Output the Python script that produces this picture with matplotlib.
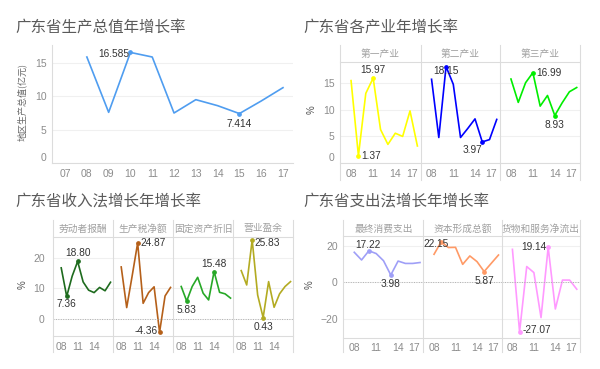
import matplotlib
matplotlib.use("Agg")
import matplotlib.pyplot as plt
from matplotlib.lines import Line2D

plt.rcParams['font.family'] = ['Liberation Sans', 'Noto Sans CJK SC', 'DejaVu Sans']
CJK = ['Noto Sans CJK SC', 'DejaVu Sans']

# ---- data ----
gdp_years = [7, 8, 9, 10, 11, 12, 13, 14, 15, 16, 17]
gdp_x = [8, 9, 10, 11, 12, 13, 14, 15, 16, 17]
gdp = [15.9, 7.6, 16.585, 15.9, 7.5, 9.5, 8.6, 7.414, 9.3, 11.3]

years = [8, 9, 10, 11, 12, 13, 14, 15, 16, 17]

ind_names = ["第一产业", "第二产业", "第三产业"]
ind1 = [15.5, 1.37, 13.1, 15.97, 6.3, 3.5, 5.6, 5.0, 9.8, 3.2]
ind2 = [15.75, 4.8, 18.15, 14.8, 4.8, 6.5, 8.3, 3.97, 4.4, 8.2]
ind3 = [15.8, 11.4, 15.1, 16.99, 10.7, 12.7, 8.93, 11.3, 13.4, 14.2]

inc_names = ["劳动者报酬", "生产税净额", "固定资产折旧", "营业盈余"]
labor = [16.7, 7.36, 14.0, 18.80, 12.1, 9.4, 8.6, 10.3, 9.2, 12.0]
tax = [17.0, 3.7, 14.1, 24.87, 5.1, 8.6, 10.5, -4.36, 7.5, 10.3]
deprec = [10.6, 5.83, 10.6, 13.6, 8.4, 6.2, 15.48, 8.7, 8.2, 6.8]
surplus = [15.8, 11.1, 25.83, 7.8, 0.43, 12.2, 3.8, 8.2, 10.6, 12.2]

exp_names = ["最终消费支出", "资本形成总额", "货物和服务净流出"]
consum = [16.4, 12.2, 17.22, 15.7, 11.8, 3.98, 11.6, 10.3, 10.3, 10.8]
capital = [15.3, 22.15, 19.0, 19.1, 9.8, 14.4, 11.3, 5.87, 10.4, 14.9]
net_exp = [18.0, -27.07, 8.6, 5.3, -19.3, 19.14, -14.6, 1.2, 1.2, -3.8]

W, H = 600, 369
EDGE = "#dcdcdc"
TICK = "#8c8c8c"

fig = plt.figure(figsize=(W / 100, H / 100), dpi=100)


def px_axes(x0, y0, x1, y1):
    ax = fig.add_axes([x0 / W, 1 - y1 / H, (x1 - x0) / W, (y1 - y0) / H])
    for s in ax.spines.values():
        s.set_visible(False)
    ax.tick_params(length=0, labelsize=7.5, colors=TICK)
    ax.yaxis.grid(True, color="#f0f0f0", lw=0.8)
    ax.set_axisbelow(True)
    return ax


def hline(y, x0, x1):
    fig.add_artist(Line2D([x0 / W, x1 / W], [1 - y / H] * 2, transform=fig.transFigure,
                          color=EDGE, lw=0.8))


def vline(x, y0, y1):
    fig.add_artist(Line2D([x / W] * 2, [1 - y0 / H, 1 - y1 / H], transform=fig.transFigure,
                          color=EDGE, lw=0.8))


def ftext(x, y, s, **kw):
    fig.text(x / W, 1 - y / H, s, **kw)


def label(ax, x, y, txt, ha, dx, dy, color):
    ax.plot([x], [y], "o", ms=2.4, color=color)
    ax.annotate(txt, (x, y), xytext=(dx * 0.72, dy * 0.72), textcoords="offset points",
                ha=ha, va="center", fontsize=7.3, color="#333333")


def mark_extremes(ax, vals, color, fmt, spec_max, spec_min):
    imax = max(range(len(vals)), key=lambda i: vals[i])
    imin = min(range(len(vals)), key=lambda i: vals[i])
    label(ax, years[imax], vals[imax], fmt.format(vals[imax]), *spec_max, color)
    label(ax, years[imin], vals[imin], fmt.format(vals[imin]), *spec_min, color)


def title(x, y, s):
    ftext(x, y, s, fontsize=11.2, color="#5a5a5a", family=CJK, va="center")


# ---------------- panel 1 ----------------
title(15, 27, "广东省生产总值年增长率")
ax = px_axes(52, 45, 293, 163)
ax.plot(gdp_x, gdp, color="#4f9df0", lw=1.2)
ax.set_xlim(6.4, 17.46)
ax.set_ylim(0, 17.7)
ax.set_yticks([0, 5, 10, 15])
ax.set_xticks(gdp_years, [f"{y:02d}" for y in gdp_years])
ax.tick_params(axis="y", pad=4)
ax.tick_params(axis="x", pad=4)
ax.get_yticklabels()[0].set_va("bottom")
imax = gdp.index(max(gdp))
imin = gdp.index(min(gdp))
label(ax, gdp_x[imax], gdp[imax], f"{gdp[imax]:.3f}", "right", -1, -2, "#4f9df0")
label(ax, gdp_x[imin], gdp[imin], f"{gdp[imin]:.3f}", "center", 0, -10, "#4f9df0")
vline(52, 45, 163)
hline(163, 52, 293)
ftext(22, 102, "地区生产总值(亿元)", fontsize=6.5, color="#666666", family=CJK,
      rotation=90, ha="center", va="center")

# ---------------- panel 2 ----------------
title(303, 27, "广东省各产业年增长率")
edges2 = [340, 420.7, 500, 580]
ser2 = [ind1, ind2, ind3]
col2 = ["#ffff00", "#0000ff", "#00ee00"]
specs2 = [(("center", 0, 8), ("left", 3, 0)),
          (("center", 0, -4), ("center", -10, -8)),
          (("left", 3, 0), ("center", 0, -9))]
for k in range(3):
    ax = px_axes(edges2[k], 62, edges2[k + 1], 163)
    ax.plot(years, ser2[k], color=col2[k], lw=1.2)
    ax.set_xlim(6.5, 17.45)
    ax.set_ylim(0, 19)
    ax.set_yticks([0, 5, 10, 15])
    ax.set_xticks([8, 11, 14, 17], ["08", "11", "14", "17"])
    ax.get_xticklabels()[-1].set_ha("right")
    ax.tick_params(axis="x", pad=4)
    if k == 0:
        ax.tick_params(axis="y", pad=4)
        ax.get_yticklabels()[0].set_va("bottom")
    else:
        ax.tick_params(axis="y", labelleft=False)
    mark_extremes(ax, ser2[k], col2[k], "{:.2f}", *specs2[k])
    ftext((edges2[k] + edges2[k + 1]) / 2, 53.5, ind_names[k], fontsize=7, color="#a0a0a0",
          family=CJK, ha="center", va="center")
for x in edges2:
    vline(x, 45, 180)
hline(62, 340, 580)
hline(163, 340, 580)
ftext(312, 110, "%", fontsize=7, color="#555555", rotation=90, ha="center", va="center")

# ---------------- panel 3 ----------------
title(15, 202, "广东省收入法增长年增长率")
edges3 = [53, 113, 173, 233, 293]
ser3 = [labor, tax, deprec, surplus]
col3 = ["#1e6b1e", "#b5601a", "#27a827", "#b3ab22"]
specs3 = [(("center", 0, 8), ("center", 0, -8)),
          (("left", 2.5, 0), ("right", -2, 1.5)),
          (("center", 0, 8), ("center", 0, -9)),
          (("left", 2, -3.5), ("center", 0, -9))]
for k in range(4):
    ax = px_axes(edges3[k], 237, edges3[k + 1], 336)
    ax.plot(years, ser3[k], color=col3[k], lw=1.2)
    ax.axhline(0, color="#b0b0b0", lw=0.7, ls=(0, (1, 1.5)))
    ax.set_xlim(6.5, 17.45)
    ax.set_ylim(-5.6, 26.8)
    ax.set_yticks([0, 10, 20])
    ax.set_xticks([8, 11, 14], ["08", "11", "14"])
    ax.tick_params(axis="x", pad=4)
    if k == 0:
        ax.tick_params(axis="y", pad=6)
    else:
        ax.tick_params(axis="y", labelleft=False)
    mark_extremes(ax, ser3[k], col3[k], "{:.2f}", *specs3[k])
    ftext((edges3[k] + edges3[k + 1]) / 2, 228.5, inc_names[k], fontsize=7, color="#a0a0a0",
          family=CJK, ha="center", va="center")
for x in edges3:
    vline(x, 220, 352)
hline(237, 53, 293)
hline(336, 53, 293)
ftext(23, 285, "%", fontsize=7, color="#555555", rotation=90, ha="center", va="center")

# ---------------- panel 4 ----------------
title(303, 202, "广东省支出法增长年增长率")
edges4 = [343.3, 423.3, 501.7, 580]
ser4 = [consum, capital, net_exp]
col4 = ["#9f9ff7", "#ff9a66", "#ff99ff"]
specs4 = [(("center", -1, 6), ("center", 0, -9)),
          (("center", -5, -2.5), ("center", 0, -9)),
          (("right", -2, 0), ("left", 2.5, 2))]
for k in range(3):
    ax = px_axes(edges4[k], 236, edges4[k + 1], 337.7)
    ax.plot(years, ser4[k], color=col4[k], lw=1.2)
    ax.axhline(0, color="#b0b0b0", lw=0.7, ls=(0, (1, 1.5)))
    ax.set_xlim(6.5, 17.45)
    ax.set_ylim(-30.3, 25.3)
    ax.set_yticks([-20, 0, 20])
    ax.set_xticks([8, 11, 14, 17], ["08", "11", "14", "17"])
    ax.get_xticklabels()[-1].set_ha("right")
    ax.tick_params(axis="x", pad=4)
    if k == 0:
        ax.tick_params(axis="y", pad=4)
    else:
        ax.tick_params(axis="y", labelleft=False)
    mark_extremes(ax, ser4[k], col4[k], "{:.2f}", *specs4[k])
    ftext((edges4[k] + edges4[k + 1]) / 2, 228.5, exp_names[k], fontsize=7, color="#a0a0a0",
          family=CJK, ha="center", va="center")
for x in edges4:
    vline(x, 220, 352)
hline(236, 343.3, 580)
hline(337.7, 343.3, 580)
ftext(310, 285, "%", fontsize=7, color="#555555", rotation=90, ha="center", va="center")

fig.savefig("out.png", dpi=100)
